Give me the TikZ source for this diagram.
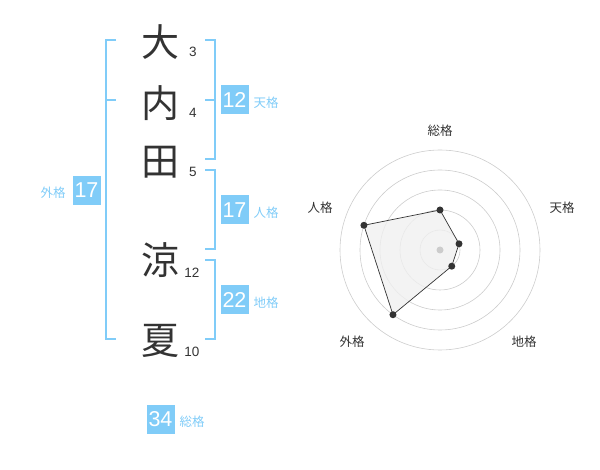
\documentclass[tikz,border=0pt]{standalone}
\usepackage{fontspec}
\setmainfont{Liberation Sans}
\newfontfamily\jp{Noto Sans CJK JP}
\usetikzlibrary{calc}
\usetikzlibrary{positioning}

\definecolor{kakublue}{RGB}{128,204,248}
\definecolor{inkgray}{RGB}{51,51,51}
\definecolor{ringgray}{RGB}{204,204,204}
\definecolor{fillgray}{RGB}{240,240,240}

\tikzset{
  kanji/.style={text=inkgray, font=\jp\fontsize{38}{38}\selectfont, inner sep=0},
  strokes/.style={text=inkgray, font=\fontsize{13.5}{13.5}\selectfont, inner sep=0},
  kakubox/.style={fill=kakublue, text=white, font=\fontsize{21.5}{21.5}\selectfont,
    minimum width=28pt, minimum height=29pt, inner sep=0},
  kakuname/.style={text=kakublue, font=\jp\fontsize{12.5}{12.5}\selectfont, inner sep=0},
  bracket/.style={draw=kakublue, line width=1.6pt},
  ring/.style={draw=ringgray, line width=0.6pt},
  axisname/.style={text=inkgray, font=\jp\fontsize{12.5}{12.5}\selectfont, inner sep=0},
  dot/.style={circle, fill=inkgray, inner sep=0, minimum size=7pt}
}

\begin{document}
\begin{tikzpicture}[x=1pt, y=-1pt]
    \useasboundingbox (0, 0) rectangle (600, 470);
    % name
    \begin{scope}
      \node[kanji] at (160, 42) (K1) {大};
      \node[kanji] at (160, 103) (K2) {内};
      \node[kanji] at (160, 162) (K3) {田};
      \node[kanji] at (160, 260) (K4) {涼};
      \node[kanji] at (160, 341) (K5) {夏};
      \node[strokes] at (193, 52) (S1) {3};
      \node[strokes] at (193, 113) (S2) {4};
      \node[strokes] at (193, 172) (S3) {5};
      \node[strokes] at (192, 273) (S4) {12};
      \node[strokes] at (192, 352) (S5) {10};
      \draw[bracket] (116, 40) -- (106, 40) -- (106, 339) -- (116, 339);
      \draw[bracket] (106, 100) -- (116, 100);
      \draw[bracket] (205, 40) -- (215, 40) -- (215, 159) -- (205, 159);
      \draw[bracket] (205, 100) -- (215, 100);
      \draw[bracket] (205, 170) -- (215, 170) -- (215, 249) -- (205, 249);
      \draw[bracket] (205, 260) -- (215, 260) -- (215, 339) -- (205, 339);
      \node[kakubox] at (86.5, 190.5) (G) {17};
      \node[kakuname] at (53, 193) (Gn) {外格};
      \node[kakubox] at (234.5, 100) (T) {12};
      \node[kakuname] at (266, 103) (Tn) {天格};
      \node[kakubox] at (234.5, 210) (J) {17};
      \node[kakuname] at (266, 213) (Jn) {人格};
      \node[kakubox] at (234.5, 300) (C) {22};
      \node[kakuname] at (266, 303) (Cn) {地格};
      \node[kakubox] at (160.5, 419) (A) {34};
      \node[kakuname] at (192, 422) (An) {総格};
    \end{scope}
    % radar
    \begin{scope}[shift={(440, 250)}]
      \coordinate (O) at (0, 0);
      \foreach \r in {20, 40, 60, 80, 100}
        \draw[ring] (O) circle[radius=\r];
      \coordinate (pA) at (-90:40);
      \coordinate (pT) at (-18:20);
      \coordinate (pC) at (54:20);
      \coordinate (pG) at (126:80);
      \coordinate (pJ) at (198:80);
      \draw[fill=fillgray, fill opacity=0.8, draw=inkgray, line width=0.7pt]
        (pA) -- (pT) -- (pC) -- (pG) -- (pJ) -- cycle;
      \node[circle, fill=ringgray, inner sep=0, minimum size=7pt] at (O) (O0) {};
      \foreach \p in {pA, pT, pC, pG, pJ}
        \node[dot] at (\p) {};
      \node[axisname] at (0, -119) (rA) {総格};
      \node[axisname] at (122, -42) (rT) {天格};
      \node[axisname] at (84, 92) (rC) {地格};
      \node[axisname] at (-88, 92) (rG) {外格};
      \node[axisname] at (-120, -42) (rJ) {人格};
    \end{scope}
  \end{tikzpicture}
\end{document}
